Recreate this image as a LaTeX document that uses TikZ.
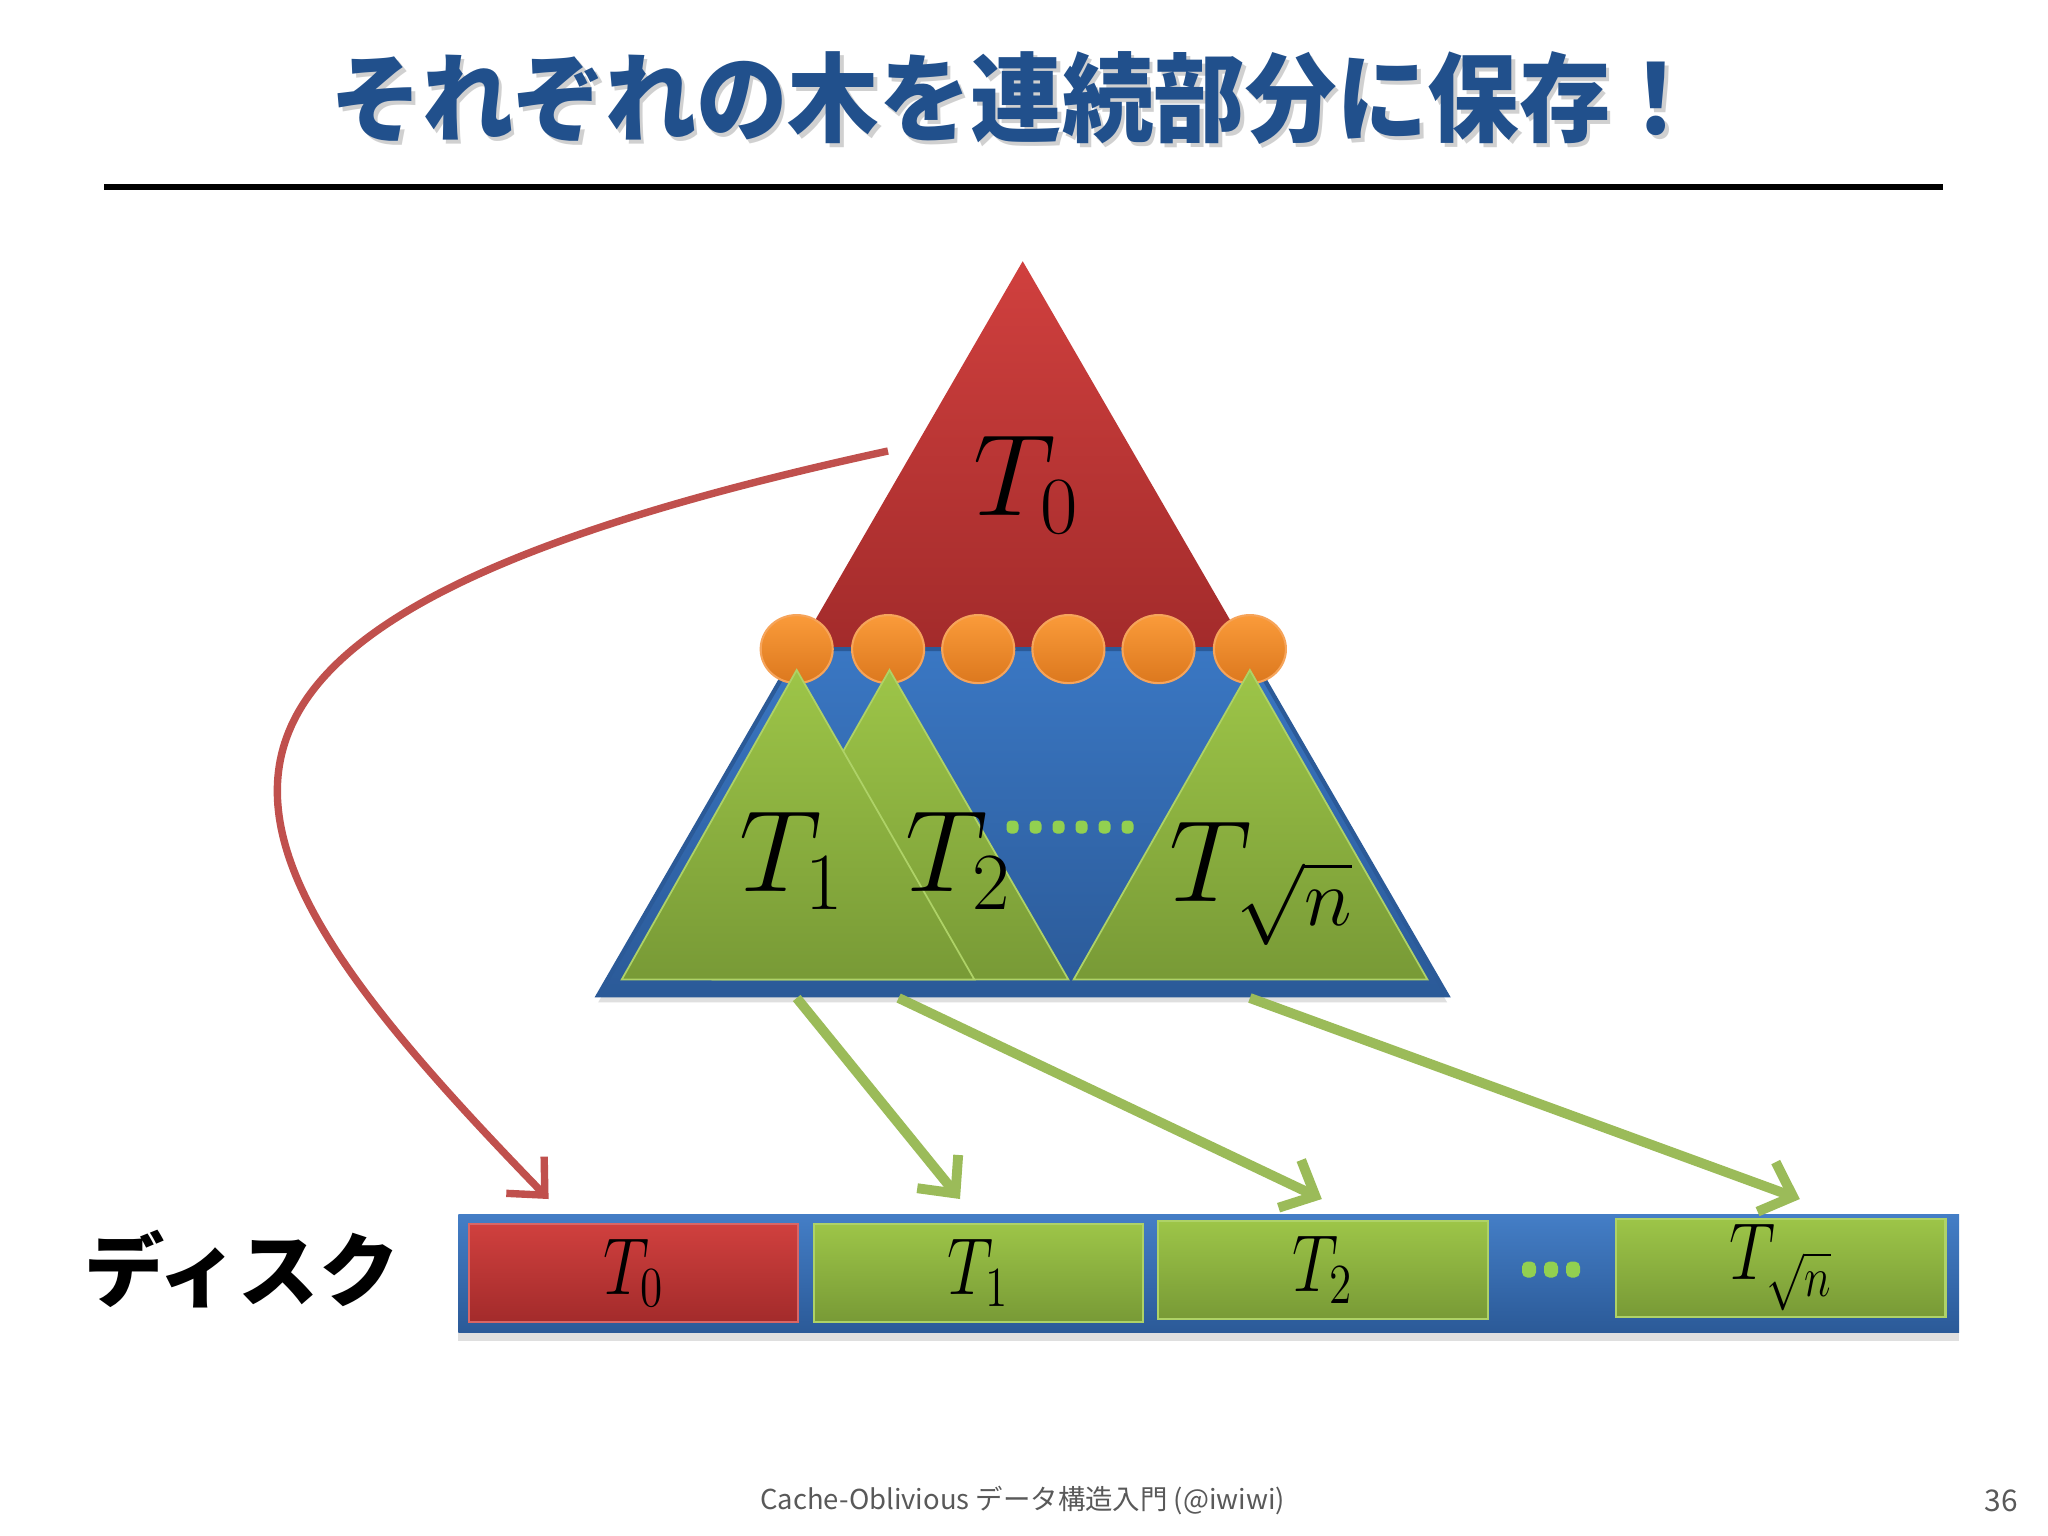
\RequirePackage{fix-cm}
\documentclass[tikz,border=0pt]{standalone}
\usepackage{graphicx}
\usepackage{fontspec}
\newfontfamily\cjk{Noto Sans CJK JP}
\usetikzlibrary{arrows.meta,shadows,calc,shapes.geometric}
\definecolor{titleblue}{HTML}{21508C}
\definecolor{redtop}{HTML}{D0403E}
\definecolor{redbot}{HTML}{A32B2B}
\definecolor{bluetop}{HTML}{3A77C3}
\definecolor{bluebot}{HTML}{2B5A98}
\definecolor{greentop}{HTML}{9DC548}
\definecolor{greenbot}{HTML}{789A36}
\definecolor{greenedge}{HTML}{AED267}
\definecolor{orangetop}{HTML}{FA9B3A}
\definecolor{orangebot}{HTML}{DC781E}
\definecolor{orangeedge}{HTML}{F6A45A}
\definecolor{arrowgreen}{HTML}{9BBB59}
\definecolor{arrowred}{HTML}{C0504D}
\definecolor{dotgreen}{HTML}{92D050}
\definecolor{footgray}{HTML}{595959}
\tikzset{
  greentri/.style={top color=greentop,bottom color=greenbot,draw=greenedge,line width=0.5pt,line join=miter},
  orangedot/.style={ellipse, minimum width=0.72cm, minimum height=0.68cm, inner sep=0pt, top color=orangetop, bottom color=orangebot, draw=orangeedge, line width=0.6pt},
  bigmath/.style={font=\fontsize{33pt}{37pt}\selectfont, inner sep=0pt},
  dbox/.style={minimum width=3.29cm, minimum height=0.98cm, inner sep=0pt, line width=0.6pt, font=\fontsize{23pt}{26pt}\selectfont},
  greenbox/.style={dbox, top color=greentop, bottom color=greenbot, draw=greenedge},
  redbox/.style={dbox, top color=redtop, bottom color=redbot, draw=redtop!80!white},
  garrow/.style={draw=arrowgreen, line width=2.8pt, -{Straight Barb[length=8pt,width=15pt]}},
  rarrow/.style={draw=arrowred, line width=2.1pt, -{Straight Barb[length=8pt,width=15pt]}},
  gdot/.style={fill=dotgreen, rounded corners=1.2pt, minimum width=0.12cm, minimum height=0.13cm, inner sep=0pt},
  ddot/.style={fill=dotgreen, rounded corners=1.5pt, minimum width=0.14cm, minimum height=0.16cm, inner sep=0pt},
  titlefont/.style={font=\cjk\bfseries\fontsize{26pt}{30pt}\selectfont},
  footfont/.style={text=footgray, font=\cjk\fontsize{7.8pt}{9pt}\selectfont},
}
\begin{document}
\begin{tikzpicture}[x=0.01cm,y=-0.01cm]
\useasboundingbox (0,0) rectangle (2048,1536);
\fill[white] (0,0) rectangle (2048,1536);
% title
\node[titlefont, text=gray!60, opacity=0.6] (titleshadow) at (1020,102) {\scalebox{1}[1.06]{それぞれの木を連続部分に保存！}};
\node[titlefont, text=titleblue] (title) at (1016.5,98) {\scalebox{1}[1.06]{それぞれの木を連続部分に保存！}};
\draw[line width=1.7pt] (104,187) -- (1943,187);
% big tree
\path[top color=redtop,bottom color=redbot] (1022.7,261.2) -- (1246.9,649.1) -- (798.4,649.1) -- cycle;
\path[top color=bluetop,bottom color=bluebot,draw=bluebot,line width=1.2pt,line join=miter,
  drop shadow={shadow xshift=0pt,shadow yshift=-2pt,opacity=0.25}]
  (798.4,649.1) -- (1246.9,649.1) -- (1447.1,995.3) -- (598.2,995.3) -- cycle;
% orange nodes
\foreach \i/\x in {1/796.7,2/888.1,3/978.2,4/1068.4,5/1158.5,6/1249.9}
  \node[orangedot] (o\i) at (\x,649.1) {};
% subtrees
\path[greentri] (889.5,670) -- (1068.4,979.6) -- (713,979.6) -- cycle;
\path[greentri] (796.7,670) -- (974.4,979.6) -- (621.7,979.6) -- cycle;
\path[greentri] (1249.9,670) -- (1427.5,979.6) -- (1073.6,979.6) -- cycle;
\node[bigmath] (lt0) at (1026.6,485) {$T_0$};
\node[bigmath] (lt1) at (792,861) {$T_1$};
\node[bigmath] (lt2) at (958.7,861) {$T_2$};
\node[bigmath] (ltn) at (1261.7,884) {$T_{\sqrt{n}}$};
\foreach \i in {0,...,5}
  \node[gdot] (gd\i) at (1012.5+23*\i,827) {};
% disk
\node[font=\cjk\bfseries\fontsize{22.8pt}{26pt}\selectfont] (disk) at (241.6,1269.5) {ディスク};
\path[top color=bluetop!95!white,bottom color=bluebot,
  drop shadow={shadow xshift=0pt,shadow yshift=-2.5pt,opacity=0.25}]
  (458.4,1214.7) rectangle (1959.2,1332.2);
\node[redbox] (d0) at (633.5,1272.8) {\scalebox{0.8}[1]{$T_0$}};
\node[greenbox] (d1) at (978.3,1272.8) {\scalebox{0.8}[1]{$T_1$}};
\node[greenbox] (d2) at (1323,1270) {\scalebox{0.8}[1]{$T_2$}};
\node[greenbox] (dn) at (1780.9,1267.6) {\scalebox{0.8}[1]{$T_{\sqrt{n}}$}};
\foreach \i in {0,1,2}
  \node[ddot] (dd\i) at (1529+22*\i,1269.5) {};
% arrows
\coordinate (s1) at (796.7,998);
\coordinate (e1) at (960,1199);
\coordinate (s2) at (898.6,998);
\coordinate (e2) at (1321.8,1199);
\coordinate (s3) at (1249.9,998);
\coordinate (e3) at (1799.8,1199);
\coordinate (rs) at (888,451);
\coordinate (re) at (548.6,1199);
\draw[garrow] (s1) -- (e1);
\draw[garrow] (s2) -- (e2);
\draw[garrow] (s3) -- (e3);
\draw[rarrow] (rs) .. controls (78.4,626.9) and (195.9,835.9) .. (re);
% footer
\node[footfont] (footer) at (1022.7,1500.7) {Cache-Oblivious データ構造入門 (@iwiwi)};
\node[footfont, font=\cjk\fontsize{8.5pt}{10pt}\selectfont] (pageno) at (2001,1500.7) {36};
\end{tikzpicture}
\end{document}
